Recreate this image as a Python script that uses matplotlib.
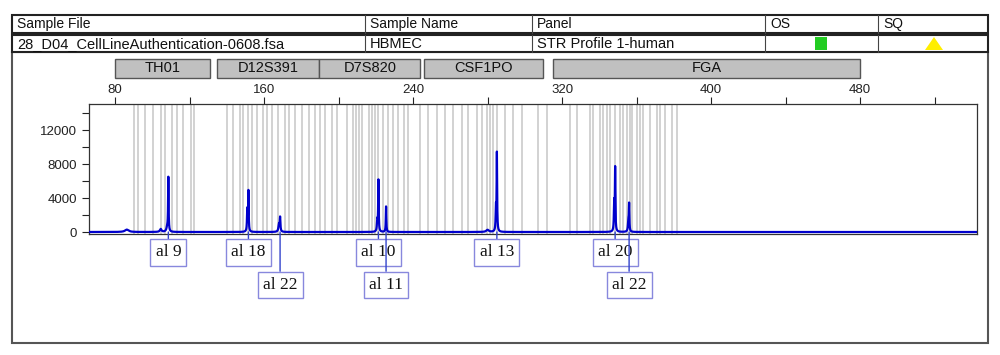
import numpy as np
import matplotlib
matplotlib.use("Agg")
import matplotlib.pyplot as plt
import matplotlib.transforms as mtransforms
from matplotlib.patches import Rectangle, Polygon

# header table
header_cols = ["Sample File", "Sample Name", "Panel", "OS", "SQ"]
header_vals = ["28_D04_CellLineAuthentication-0608.fsa", "HBMEC", "STR Profile 1-human", "", ""]
col_edges_px = [12, 365, 532, 765, 878, 988]

# loci (bp ranges)
loci = ["TH01", "D12S391", "D7S820", "CSF1PO", "FGA"]
loci_start = [80.0, 134.8, 189.6, 246.0, 315.0]
loci_end = [131.0, 189.6, 243.9, 310.0, 480.0]

# allele bins (bp)
bins_th01 = [90.2, 92.3, 96.1, 100.4, 104.7, 106.8, 110.6, 113.3, 116.5, 120.8, 122.4]
bins_d12_d7 = [140.1, 143.4, 147.1, 148.7, 151.4, 153.6, 156.2, 159.5, 161.6, 164.3,
               167.5, 171.3, 173.4, 176.6, 180.4, 184.2, 187.4, 190.1, 192.8, 196.5,
               199.2, 204.6, 207.6, 209.2, 210.9, 212.6, 216.2, 217.9, 219.6, 221.3,
               224.0, 226.7, 229.3, 232.0, 235.2, 237.3]
bins_csf1po = [243.8, 248.1, 252.9, 257.2, 261.5, 266.3, 269.5, 274.4, 277.0, 279.7,
               281.3, 283.0, 285.1, 289.4, 293.7, 298.5, 307.1, 311.9]
bins_fga = [324.3, 328.1, 335.0, 336.6, 340.4, 342.0, 344.2, 345.8, 348.5, 351.1,
            352.8, 354.9, 356.5, 357.6, 360.3, 361.9, 363.5, 367.2, 371.0, 372.6,
            375.3, 379.1, 381.7]

# electropherogram peaks (bp, RFU)
peak_pos = [86.3, 104.5, 108.0, 108.6, 151.0, 151.6, 168.0, 168.6, 220.8, 221.4,
            225.5, 280.0, 284.5, 285.0, 348.0, 348.5, 355.6, 356.0]
peak_height = [280, 350, 500, 6300, 2600, 4700, 900, 1600, 1300, 6000,
               3000, 250, 2600, 9100, 3300, 7300, 1300, 3100]
peak_width = [1.2, 0.5, 0.5, 0.16, 0.2, 0.16, 0.35, 0.2, 0.25, 0.16,
              0.16, 0.8, 0.2, 0.16, 0.2, 0.16, 0.25, 0.16]

# allele calls
allele_labels = ["al 9", "al 18", "al 22", "al 10", "al 11", "al 13", "al 20", "al 22"]
allele_pos = [108.6, 151.6, 168.6, 221.4, 225.5, 285.0, 348.5, 356.0]
allele_row = [0, 0, 1, 0, 1, 0, 0, 1]

W, H = 1000, 355
fig = plt.figure(figsize=(10, 3.55), dpi=100)

def fx(px):
    return px / W

def fy(py):
    return 1 - py / H

# outer panel frame
fig.patches.append(Rectangle((fx(12), fy(343)), fx(988) - fx(12), fy(52) - fy(343),
                             transform=fig.transFigure, fill=False, ec="#555555", lw=1.5))
# header rows
for (top, bot) in [(15, 33), (35, 52)]:
    fig.patches.append(Rectangle((fx(12), fy(bot)), fx(988) - fx(12), fy(top) - fy(bot),
                                 transform=fig.transFigure, fill=True, fc="white",
                                 ec="#222222", lw=1.5))
    for xe in col_edges_px[1:-1]:
        fig.add_artist(plt.Line2D([fx(xe), fx(xe)], [fy(bot), fy(top)],
                                  transform=fig.transFigure, color="#444444", lw=0.8))
for i in range(5):
    fig.text(fx(col_edges_px[i] + 5), fy(24), header_cols[i], fontsize=10,
             family="Liberation Sans", va="center", color="#111111")
    if header_vals[i]:
        fig.text(fx(col_edges_px[i] + 5), fy(44), header_vals[i], fontsize=10.5,
                 family="Liberation Sans", va="center", color="#111111")
# OS / SQ markers
fig.patches.append(Rectangle((fx(815), fy(50)), fx(12), 13 / H, transform=fig.transFigure,
                             fc="#22cc22", ec="none"))
fig.patches.append(Polygon([[fx(925), fy(50)], [fx(943), fy(50)], [fx(934), fy(37)]],
                           closed=True, transform=fig.transFigure, fc="#ffee00", ec="none"))

ax = fig.add_axes([fx(89), fy(234), fx(977) - fx(89), fy(104) - fy(234)])
xmin, xmax = 66.0, 542.8
ax.set_xlim(xmin, xmax)
ax.set_ylim(-235, 15060)

for b in bins_th01 + bins_d12_d7 + bins_csf1po + bins_fga:
    ax.axvline(b, color="#d2d2d2", lw=1.4, zorder=1)

x = np.linspace(xmin, xmax, 30000)
y = np.zeros_like(x)
for p, h, w in zip(peak_pos, peak_height, peak_width):
    y += h * w ** 2 / ((x - p) ** 2 + w ** 2)
ax.plot(x, y, color="#0000cc", lw=1.6, zorder=3)

ax.xaxis.tick_top()
ax.set_xticks([80, 160, 240, 320, 400, 480])
ax.set_xticks([120, 200, 280, 360, 440, 520], minor=True)
ax.set_yticks([0, 4000, 8000, 12000])
ax.set_yticks([2000, 6000, 10000, 14000], minor=True)
ax.tick_params(axis="both", which="both", direction="out", length=5, width=0.8,
               colors="#222222", labelsize=9.5)
ax.tick_params(axis="x", pad=1)
for lab in ax.get_xticklabels() + ax.get_yticklabels():
    lab.set_family("Liberation Sans")
for s in ax.spines.values():
    s.set_color("#333333")
    s.set_linewidth(0.9)

# locus bars above the axis
blend_fig_y = mtransforms.blended_transform_factory(ax.transData, fig.transFigure)
for name, s, e in zip(loci, loci_start, loci_end):
    r = Rectangle((s, fy(78)), e - s, fy(59) - fy(78), transform=blend_fig_y,
                  fc="#c0c0c0", ec="#555555", lw=1.0, clip_on=False)
    fig.add_artist(r)
    fig.text((s + e) / 2, fy(68.5), name, transform=blend_fig_y, ha="center",
             va="center", fontsize=10.5, family="Liberation Sans", color="#111111")

# allele labels
row_y = [fy(252.5), fy(285)]
for lab, p, r in zip(allele_labels, allele_pos, allele_row):
    ax.annotate(lab, xy=(p, 0), xycoords="data", xytext=(p, row_y[r]),
                textcoords=blend_fig_y, ha="center", va="center", fontsize=12.5,
                family="Liberation Serif", color="#111111", annotation_clip=False,
                bbox=dict(boxstyle="square,pad=0.3", fc="white", ec="#8888dd", lw=1.0),
                arrowprops=dict(arrowstyle="-", color="#3344cc", lw=1.0,
                                shrinkA=0, shrinkB=0),
                zorder=5 + r)

fig.savefig("out.png", dpi=100)
